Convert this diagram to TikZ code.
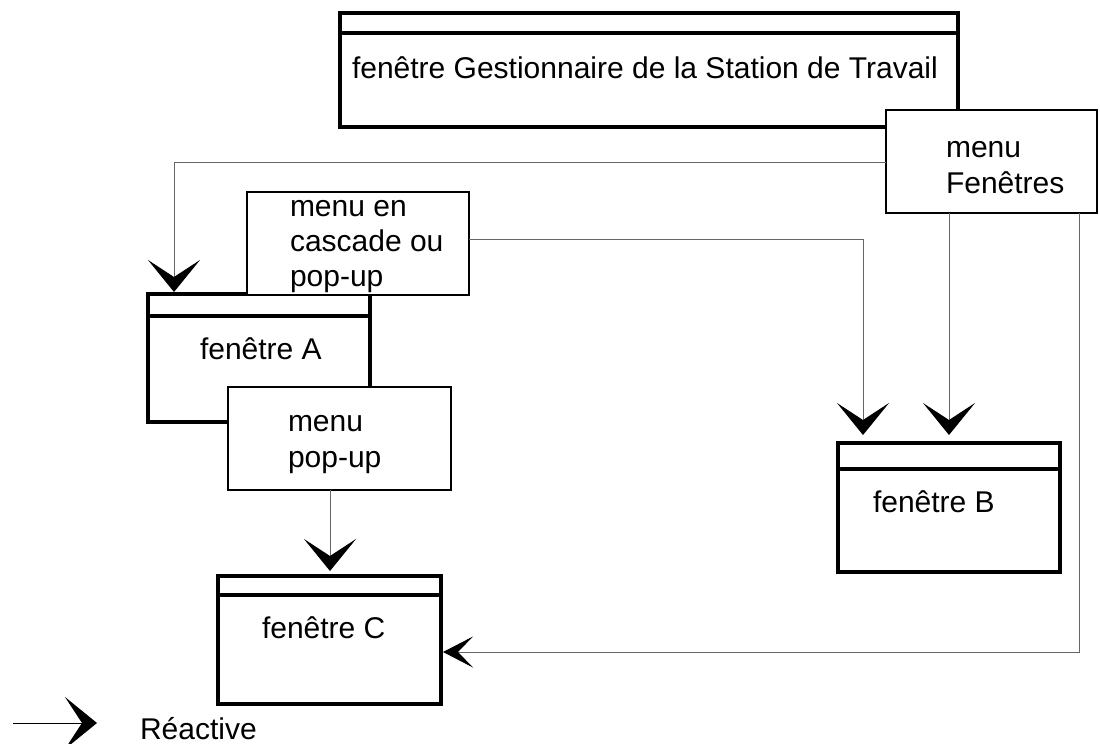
\documentclass[tikz,border=0pt]{standalone}
\usepackage{fontspec}
\setmainfont{Liberation Sans}
\usetikzlibrary{arrows.meta}
\begin{document}
\begin{tikzpicture}[x=1pt,y=-1pt,
  win/.style={draw=black, line width=3.5pt, fill=white, rectangle, inner sep=0pt, outer sep=0pt, anchor=north west},
  menubox/.style={draw=black, line width=2.5pt, fill=white, rectangle, inner sep=0pt, outer sep=0pt, anchor=north west},
  bar/.style={draw=black, line width=4pt, line cap=round},
  conn/.style={draw=black!60, line width=1pt, -{Stealth[length=32pt,width=52pt,inset=17pt,color=black]}},
  connsm/.style={draw=black!60, line width=1pt, -{Stealth[length=30pt,width=31pt,inset=15pt,color=black]}},
  lbl/.style={inner sep=0pt, outer sep=0pt, anchor=base west, font=\fontsize{30}{36}\selectfont, align=left}
]
\useasboundingbox (0,0) rectangle (1100,744);

% windows and menus
\node[win, minimum width=618pt, minimum height=114pt] (W) at (340,13) {};
\draw[bar] ([xshift=3pt]W.west |- 0,33) -- ([xshift=-3pt]W.east |- 0,33);
\node[menubox, minimum width=211pt, minimum height=103pt] (menuF) at (886,110) {};

\node[win, minimum width=222pt, minimum height=128pt] (A) at (148,294) {};
\draw[bar] ([xshift=3pt]A.west |- 0,316) -- ([xshift=-3pt]A.east |- 0,316);
\node[menubox, minimum width=222pt, minimum height=103pt] (cascade) at (247,192) {};
\node[menubox, minimum width=223pt, minimum height=103pt] (popup) at (228,387) {};

\node[win, minimum width=222pt, minimum height=129pt] (B) at (838,443) {};
\draw[bar] ([xshift=3pt]B.west |- 0,469) -- ([xshift=-3pt]B.east |- 0,469);

\node[win, minimum width=223pt, minimum height=128pt] (C) at (218,576) {};
\draw[bar] ([xshift=3pt]C.west |- 0,595) -- ([xshift=-3pt]C.east |- 0,595);

% connectors
\draw[conn] (menuF.west |- 0,162) -| ([yshift=2pt]A.north -| 174,0);
\draw[conn] (cascade.east |- 0,239) -| ([yshift=8pt]B.north -| 863,0);
\draw[conn] (menuF.south -| 949,0) -- ([yshift=8pt]B.north -| 949,0);
\draw[connsm] (menuF.south -| 1079,0) |- ([xshift=2pt]C.east |- 0,652);
\draw[conn] (popup.south -| 330,0) -- ([yshift=5pt]C.north -| 330,0);

% labels (multi-line labels are anchored at the baseline of their last line)
\node[lbl] (Wt) at (352,78) {fenêtre Gestionnaire de la Station de Travail};
\node[lbl] (menuFt) at (946,193) {menu\\Fenêtres};
\node[lbl, font=\fontsize{30}{35}\selectfont] (cascadet) at (290,286) {menu en\\cascade ou\\pop-up};
\node[lbl] (At) at (200,359) {fenêtre A};
\node[lbl] (popupt) at (288,467) {menu\\pop-up};
\node[lbl] (Bt) at (873,512) {fenêtre B};
\node[lbl] (Ct) at (262,638) {fenêtre C};

% legend
\coordinate (lgA) at (13,723);
\coordinate (lgB) at (97,723);
\draw[conn, draw=black] (lgA) -- (lgB);
\node[lbl] (lgT) at (140,739) {Réactive};
\end{tikzpicture}
\end{document}
